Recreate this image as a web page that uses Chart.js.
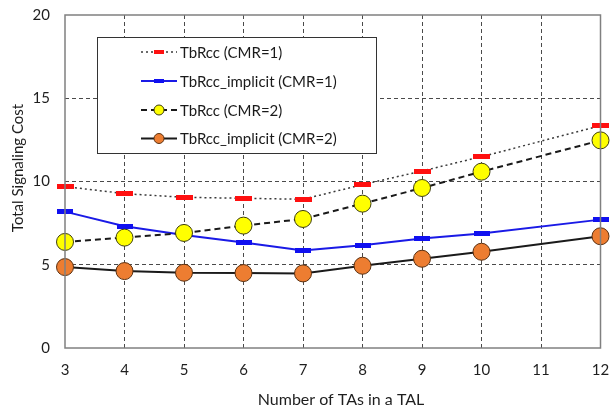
<!DOCTYPE html>
<html>
<head>
<meta charset="utf-8">
<script src="https://cdn.jsdelivr.net/npm/chart.js"></script>
<style>
html, body { margin: 0; padding: 0; background: #fff; overflow: hidden; }
#wrap { width: 610px; height: 405px; overflow: hidden; }
</style>
</head>
<body>
<div id="wrap"><canvas id="chart" width="610" height="415"></canvas></div>
<script>
// x values (no point at 11)
const taCounts = [3, 4, 5, 6, 7, 8, 9, 10, 12];
const tbrccCmr1 = [9.7, 9.27, 9.05, 8.99, 8.93, 9.81, 10.63, 11.49, 13.35];
const implicitCmr1 = [8.19, 7.31, 6.79, 6.33, 5.85, 6.17, 6.57, 6.87, 7.71];
const tbrccCmr2 = [6.37, 6.63, 6.91, 7.35, 7.75, 8.67, 9.61, 10.59, 12.47];
const implicitCmr2 = [4.86, 4.62, 4.52, 4.50, 4.48, 4.94, 5.36, 5.78, 6.71];
const seriesLabels = ['TbRcc (CMR=1)', 'TbRcc_implicit (CMR=1)', 'TbRcc (CMR=2)', 'TbRcc_implicit (CMR=2)'];
const xTitle = 'Number of TAs in a TAL';
const yTitle = 'Total Signaling Cost';

const FONT = 'Lato, "Open Sans", sans-serif';

function dashMarker(color, w, h) {
    const c = document.createElement('canvas');
    c.width = w; c.height = h;
    const g = c.getContext('2d');
    g.fillStyle = color;
    g.fillRect(0, 0, w, h);
    return c;
}

function toPoints(ys) {
    return taCounts.map((x, i) => ({ x: x, y: ys[i] }));
}

const redMark = dashMarker('#ff1010', 17, 5);
const blueMark = dashMarker('#1010f0', 16, 5);

const datasets = [
    {
        label: seriesLabels[0], data: toPoints(tbrccCmr1), order: 0,
        borderColor: '#3a3a3a', borderWidth: 1.5, borderDash: [2, 3],
        pointStyle: redMark, legendMark: 'red'
    },
    {
        label: seriesLabels[1], data: toPoints(implicitCmr1), order: 2,
        borderColor: '#1a1ae6', borderWidth: 2,
        pointStyle: blueMark, legendMark: 'blue'
    },
    {
        label: seriesLabels[2], data: toPoints(tbrccCmr2), order: 1,
        borderColor: '#1a1a1a', borderWidth: 2, borderDash: [6, 4],
        pointStyle: 'circle', pointRadius: 8.5, pointBackgroundColor: '#ffff00',
        pointBorderColor: '#3d3d10', pointBorderWidth: 1, legendMark: 'yellow'
    },
    {
        label: seriesLabels[3], data: toPoints(implicitCmr2), order: 3,
        borderColor: '#1a1a1a', borderWidth: 2,
        pointStyle: 'circle', pointRadius: 8.5, pointBackgroundColor: '#ed7d31',
        pointBorderColor: '#5a3010', pointBorderWidth: 1, legendMark: 'orange'
    }
];
datasets.forEach(d => { d.clip = false; d.tension = 0; d.fill = false; });

// frame around plot, axis titles, legend box inside the plot
const decor = {
    id: 'decor',
    afterDraw(chart) {
        const ctx = chart.ctx;
        const a = chart.chartArea;
        ctx.save();
        ctx.strokeStyle = '#808080';
        ctx.lineWidth = 1.5;
        ctx.strokeRect(a.left, a.top, a.right - a.left, a.bottom - a.top);

        ctx.fillStyle = '#1e1e1e';
        ctx.font = '16px ' + FONT;
        ctx.textAlign = 'center';
        ctx.textBaseline = 'middle';
        ctx.fillText(xTitle, 341, 400);
        ctx.font = '15px ' + FONT;
        ctx.translate(18, 168);
        ctx.rotate(-Math.PI / 2);
        ctx.fillText(yTitle, 0, 0);
        ctx.restore();

        // legend
        ctx.save();
        ctx.fillStyle = '#fff';
        ctx.fillRect(97, 37, 279, 116);
        ctx.strokeStyle = '#333';
        ctx.lineWidth = 1;
        ctx.strokeRect(97.5, 37.5, 279, 116);
        const rows = [52, 81, 110, 138.5];
        datasets.forEach((d, i) => {
            const y = rows[i];
            ctx.strokeStyle = d.borderColor;
            ctx.lineWidth = d.borderWidth;
            ctx.setLineDash(d.borderDash || []);
            ctx.beginPath();
            ctx.moveTo(141, y);
            ctx.lineTo(177, y);
            ctx.stroke();
            ctx.setLineDash([]);
            if (d.legendMark === 'red' || d.legendMark === 'blue') {
                ctx.fillStyle = d.legendMark === 'red' ? '#ff1010' : '#1010f0';
                ctx.fillRect(154, y - 2, 10, 4);
            } else {
                ctx.beginPath();
                ctx.arc(159, y, 5, 0, Math.PI * 2);
                ctx.fillStyle = d.pointBackgroundColor;
                ctx.fill();
                ctx.strokeStyle = d.pointBorderColor;
                ctx.lineWidth = 1;
                ctx.stroke();
            }
            ctx.fillStyle = '#1a1a1a';
            ctx.font = '15px ' + FONT;
            ctx.textAlign = 'left';
            ctx.textBaseline = 'middle';
            ctx.fillText(d.label, 180, y + 1);
        });
        ctx.restore();
    }
};

function gridColor(ctx) {
    const v = ctx.tick ? ctx.tick.value : null;
    const s = ctx.scale;
    if (v === s.min || v === s.max) return 'rgba(0,0,0,0)';
    return '#4a4a4a';
}

new Chart(document.getElementById('chart'), {
    type: 'line',
    data: { datasets: datasets },
    plugins: [decor],
    options: {
        responsive: false,
        animation: false,
        layout: { padding: { top: 15, right: 6, left: 0, bottom: 0 } },
        plugins: { legend: { display: false }, tooltip: { enabled: false } },
        scales: {
            x: {
                type: 'linear', min: 3, max: 12,
                ticks: { stepSize: 1, color: '#1e1e1e', font: { family: FONT, size: 15 }, padding: 13 },
                grid: { color: gridColor, lineWidth: 1, drawTicks: false },
                border: { display: false, dash: [4, 3] },
                afterFit(scale) {
                    scale.height = 67;
                    scale.paddingLeft = 0;
                    scale.paddingRight = 0;
                }
            },
            y: {
                min: 0, max: 20,
                ticks: { stepSize: 5, color: '#1e1e1e', font: { family: FONT, size: 15 }, padding: 15 },
                grid: { color: gridColor, lineWidth: 1, drawTicks: false },
                border: { display: false, dash: [4, 3] },
                afterFit(scale) {
                    scale.width = 65;
                    scale.paddingTop = 0;
                    scale.paddingBottom = 0;
                }
            }
        }
    }
});
</script>
</body>
</html>
